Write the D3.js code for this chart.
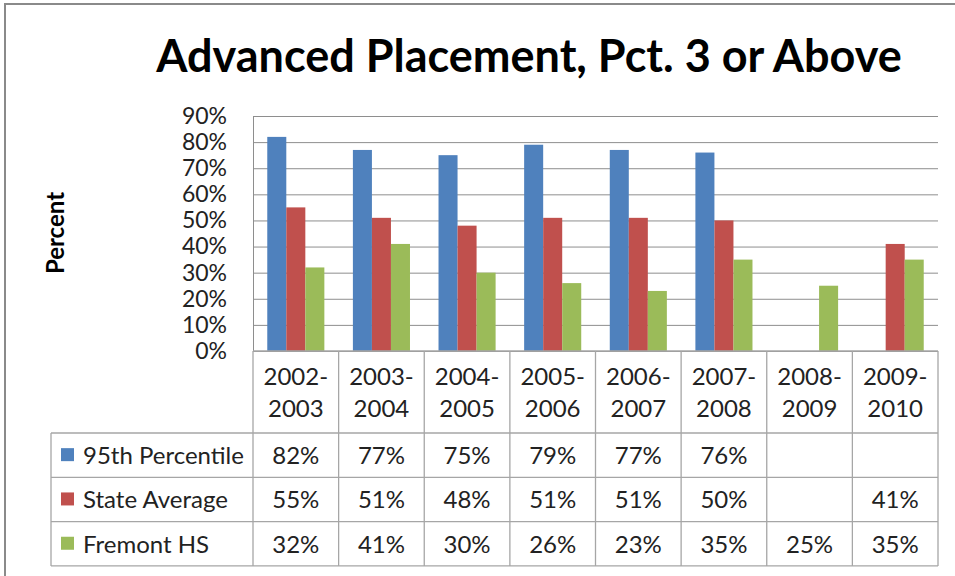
<!DOCTYPE html>
<html>
<head>
<meta charset="utf-8">
<script src="https://cdn.jsdelivr.net/npm/d3@7"></script>
<style>
  html, body { margin: 0; padding: 0; background: #fff; }
  svg { display: block; }
  text { font-family: "Lato", "Liberation Sans", sans-serif; fill: #222; }
</style>
</head>
<body>
<script>
// chart data
var categories = ["2002-2003", "2003-2004", "2004-2005", "2005-2006", "2006-2007", "2007-2008", "2008-2009", "2009-2010"];
var seriesNames = ["95th Percentile", "State Average", "Fremont HS"];
var seriesColors = ["#4f81bd", "#c0504d", "#9bbb59"];
var pct95 = [82, 77, 75, 79, 77, 76, null, null];
var stateAvg = [55, 51, 48, 51, 51, 50, null, 41];
var fremont = [32, 41, 30, 26, 23, 35, 25, 35];
var yTicks = [0, 10, 20, 30, 40, 50, 60, 70, 80, 90];

var width = 955;
var height = 576;
var plotLeft = 253, plotRight = 938, plotTop = 116, plotBottom = 351;
var tableLeft = 51;
var headerBottom = 433;
var rowH = 44.3;
var gridColor = "#8e8e8e";
var tableColor = "#a6a6a6";

var values = [pct95, stateAvg, fremont];

var svg = d3.select("body").append("svg")
    .attr("width", width)
    .attr("height", height);

// outer chart border (runs off the right and bottom edges)
svg.append("rect")
    .attr("x", 5)
    .attr("y", 4)
    .attr("width", 980)
    .attr("height", 600)
    .attr("fill", "#fff")
    .attr("stroke", "#8a8a8a")
    .attr("stroke-width", 2);

var x = d3.scaleBand()
    .domain(categories)
    .range([plotLeft, plotRight])
    .paddingInner(0)
    .paddingOuter(0);

// gap width 150% like excel -> group takes 3/4.5 of the band
var groupW = x.bandwidth() * 3 / 4.5;
var xs = d3.scaleBand()
    .domain(d3.range(seriesNames.length))
    .range([(x.bandwidth() - groupW) / 2, (x.bandwidth() + groupW) / 2]);

var y = d3.scaleLinear()
    .domain([0, 90])
    .range([plotBottom, plotTop]);

// title
svg.append("text")
    .attr("x", 529)
    .attr("y", 72)
    .attr("text-anchor", "middle")
    .style("font-size", "45px")
    .style("font-weight", "bold")
    .style("fill", "#000")
    .text("Advanced Placement, Pct. 3 or Above");

// y axis title
svg.append("text")
    .attr("transform", "translate(64,233) rotate(-90)")
    .attr("text-anchor", "middle")
    .style("font-size", "24px")
    .style("font-weight", "bold")
    .style("fill", "#000")
    .text("Percent");

// gridlines + tick labels via d3 axis
var yAxis = d3.axisLeft(y)
    .tickValues(yTicks)
    .tickSize(-(plotRight - plotLeft))
    .tickPadding(26)
    .tickFormat(function (d) { return d + "%"; });

var gy = svg.append("g")
    .attr("transform", "translate(" + plotLeft + ",0)")
    .call(yAxis);
gy.select(".domain").attr("stroke", gridColor);
gy.selectAll(".tick line").attr("stroke", gridColor);
gy.selectAll(".tick text")
    .style("font-size", "23px")
    .style("font-family", "Lato, 'Liberation Sans', sans-serif")
    .attr("fill", "#222");

// bars
var groups = svg.selectAll("g.series")
    .data(values)
    .enter().append("g")
    .attr("class", "series")
    .attr("fill", function (d, i) { return seriesColors[i]; });

groups.each(function (vals, si) {
    d3.select(this).selectAll("rect")
        .data(vals.map(function (v, ci) { return { v: v, c: categories[ci] }; })
            .filter(function (d) { return d.v !== null; }))
        .enter().append("rect")
        .attr("x", function (d) { return x(d.c) + xs(si); })
        .attr("y", function (d) { return y(d.v); })
        .attr("width", xs.bandwidth())
        .attr("height", function (d) { return y(0) - y(d.v); });
});

// data table
var tableBottom = headerBottom + rowH * 3;
var rowY = d3.scaleBand()
    .domain(d3.range(seriesNames.length))
    .range([headerBottom, tableBottom]);

var tbl = svg.append("g")
    .attr("stroke", tableColor)
    .attr("stroke-width", 1.3)
    .attr("fill", "none");

// vertical lines between categories
tbl.selectAll("line.v")
    .data(categories.concat(["end"]))
    .enter().append("line")
    .attr("x1", function (d, i) { return i < categories.length ? x(d) : plotRight; })
    .attr("x2", function (d, i) { return i < categories.length ? x(d) : plotRight; })
    .attr("y1", plotBottom)
    .attr("y2", tableBottom);

tbl.append("line")
    .attr("x1", tableLeft).attr("x2", tableLeft)
    .attr("y1", headerBottom).attr("y2", tableBottom);

tbl.selectAll("line.h")
    .data(d3.range(seriesNames.length + 1))
    .enter().append("line")
    .attr("x1", tableLeft)
    .attr("x2", plotRight)
    .attr("y1", function (d) { return headerBottom + d * rowY.bandwidth(); })
    .attr("y2", function (d) { return headerBottom + d * rowY.bandwidth(); });

svg.append("line")
    .attr("x1", plotLeft).attr("x2", plotRight)
    .attr("y1", plotBottom).attr("y2", plotBottom)
    .attr("stroke", tableColor).attr("stroke-width", 1.3);

// category labels, two lines
var catText = svg.selectAll("text.cat")
    .data(categories)
    .enter().append("text")
    .attr("class", "cat")
    .attr("text-anchor", "middle")
    .style("font-size", "24px");
catText.append("tspan")
    .attr("x", function (d) { return x(d) + x.bandwidth() / 2; })
    .attr("y", 385)
    .text(function (d) { return d.split("-")[0] + "-"; });
catText.append("tspan")
    .attr("x", function (d) { return x(d) + x.bandwidth() / 2; })
    .attr("y", 417)
    .text(function (d) { return d.split("-")[1]; });

// legend keys + names
seriesNames.forEach(function (name, si) {
    var cy = rowY(si) + rowY.bandwidth() / 2;
    svg.append("rect")
        .attr("x", 61)
        .attr("y", cy - 7)
        .attr("width", 13)
        .attr("height", 13)
        .attr("fill", seriesColors[si]);
    svg.append("text")
        .attr("x", 83)
        .attr("y", cy + 9)
        .style("font-size", "24px")
        .text(name);

    svg.selectAll("text.val" + si)
        .data(values[si].map(function (v, ci) { return { v: v, c: categories[ci] }; })
            .filter(function (d) { return d.v !== null; }))
        .enter().append("text")
        .attr("class", "val" + si)
        .attr("x", function (d) { return x(d.c) + x.bandwidth() / 2; })
        .attr("y", cy + 9)
        .attr("text-anchor", "middle")
        .style("font-size", "24px")
        .text(function (d) { return d.v + "%"; });
});
</script>
</body>
</html>
